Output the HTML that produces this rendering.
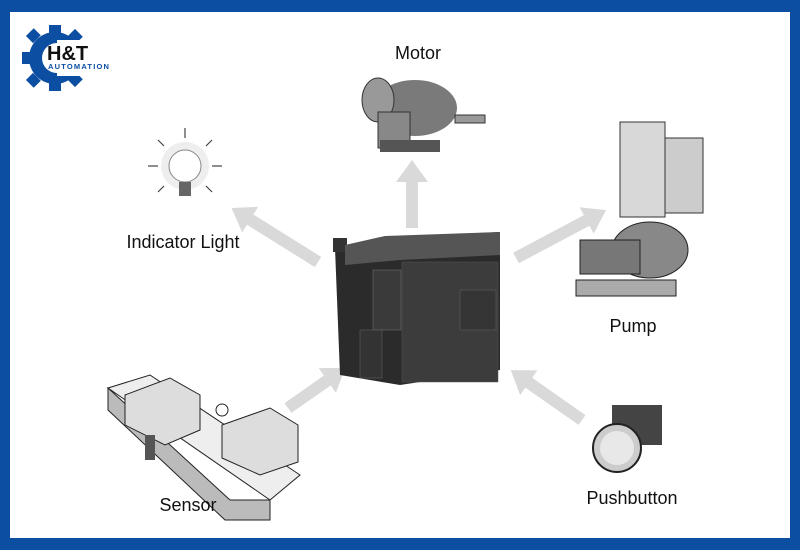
<!DOCTYPE html>
<html><head><meta charset="utf-8"><style>
body{margin:0;width:800px;height:550px;overflow:hidden;background:#fff}
svg{display:block}
text{font-family:"Liberation Sans",Arial,sans-serif}
</style></head><body>
<svg width="800" height="550" viewBox="0 0 800 550">
<rect x="0" y="0" width="800" height="550" fill="#0b4ea2"/>
<rect x="10" y="12" width="780" height="526" fill="#fff"/>
<!-- logo -->
<g fill="#0b4ea2">
<circle cx="55" cy="58" r="26"/>
<rect x="49" y="25" width="12" height="10"/><rect x="49" y="81" width="12" height="10"/>
<rect x="22" y="52" width="10" height="12"/>
<rect x="28" y="31" width="11" height="10" transform="rotate(-45 33 36)"/>
<rect x="28" y="75" width="11" height="10" transform="rotate(45 33 80)"/>
<rect x="70" y="31" width="11" height="10" transform="rotate(45 75 36)"/>
<rect x="70" y="75" width="11" height="10" transform="rotate(-45 75 80)"/>
</g>
<circle cx="57" cy="58" r="15" fill="#fff"/>
<rect x="57" y="40" width="45" height="36" fill="#fff"/>
<text x="47" y="60" font-size="20" font-weight="bold" fill="#111">H&amp;T</text>
<text x="48" y="69" font-size="7.5" font-weight="bold" fill="#0b4ea2" letter-spacing="1.2">AUTOMATION</text>
<!-- arrows -->
<g fill="#d9d9d9">
<polygon points="406,228 418,228 418,182 428,182 412,160 396,182 406,182"/>
<g transform="translate(318,262) rotate(-148)"><polygon points="0,-6 80,-6 80,-15 102,0 80,15 80,6 0,6"/></g>
<g transform="translate(516,258) rotate(-28)"><polygon points="0,-6 80,-6 80,-15 102,0 80,15 80,6 0,6"/></g>
<g transform="translate(288,408) rotate(-35)"><polygon points="0,-6 48,-6 48,-15 70,0 48,15 48,6 0,6"/></g>
<g transform="translate(582,420) rotate(-145)"><polygon points="0,-6 65,-6 65,-15 87,0 65,15 65,6 0,6"/></g>
</g>
<!-- PLC -->
<polygon points="335,248 380,238 500,232 500,370 400,385 340,375" fill="#2b2b2b"/>
<rect x="333" y="238" width="14" height="14" fill="#333"/>
<polygon points="345,245 385,236 500,232 500,255 400,260 345,265" fill="#555"/>
<rect x="373" y="270" width="28" height="60" fill="#3a3a3a" stroke="#777" stroke-width="0.5"/>
<rect x="360" y="330" width="22" height="48" fill="#333" stroke="#666" stroke-width="0.5"/>
<rect x="402" y="262" width="96" height="120" fill="#3c3c3c" stroke="#555" stroke-width="0.5"/>
<rect x="460" y="290" width="36" height="40" fill="#353535" stroke="#666" stroke-width="0.5"/>
<!-- motor -->
<g>
<ellipse cx="415" cy="108" rx="42" ry="28" fill="#7a7a7a"/>
<ellipse cx="378" cy="100" rx="16" ry="22" fill="#999" stroke="#333"/>
<rect x="378" y="112" width="32" height="36" fill="#888" stroke="#333"/>
<rect x="455" y="115" width="30" height="8" fill="#999" stroke="#333"/>
<rect x="380" y="140" width="60" height="12" fill="#555"/>
</g>
<text x="418" y="59" font-size="18" text-anchor="middle" fill="#111">Motor</text>
<!-- bulb -->
<circle cx="185" cy="166" r="24" fill="#eee"/>
<circle cx="185" cy="166" r="16" fill="#fff" stroke="#888"/>
<rect x="179" y="182" width="12" height="14" fill="#666"/>
<g stroke="#444" stroke-width="1.2">
<line x1="185" y1="128" x2="185" y2="138"/><line x1="148" y1="166" x2="158" y2="166"/><line x1="212" y1="166" x2="222" y2="166"/>
<line x1="158" y1="140" x2="164" y2="146"/><line x1="212" y1="140" x2="206" y2="146"/>
<line x1="158" y1="192" x2="164" y2="186"/><line x1="212" y1="192" x2="206" y2="186"/>
</g>
<text x="183" y="248" font-size="18" text-anchor="middle" fill="#111">Indicator Light</text>
<!-- pump -->
<rect x="620" y="122" width="45" height="95" fill="#d8d8d8" stroke="#333"/>
<rect x="665" y="138" width="38" height="75" fill="#ccc" stroke="#333"/>
<ellipse cx="650" cy="250" rx="38" ry="28" fill="#888" stroke="#222"/>
<rect x="580" y="240" width="60" height="34" fill="#777" stroke="#222"/>
<rect x="576" y="280" width="100" height="16" fill="#aaa" stroke="#222"/>
<text x="633" y="332" font-size="18" text-anchor="middle" fill="#111">Pump</text>
<!-- pushbutton -->
<rect x="612" y="405" width="50" height="40" fill="#444"/>
<circle cx="617" cy="448" r="24" fill="#ccc" stroke="#222" stroke-width="2"/>
<circle cx="617" cy="448" r="17" fill="#e8e8e8"/>
<text x="632" y="504" font-size="18" text-anchor="middle" fill="#111">Pushbutton</text>
<!-- sensor/conveyor -->
<polygon points="108,388 230,500 270,500 270,520 225,520 108,410" fill="#bbb" stroke="#222"/>
<polygon points="108,388 150,375 300,475 270,500" fill="#eee" stroke="#222"/>
<polygon points="125,395 170,378 200,395 200,430 165,445 125,425" fill="#ddd" stroke="#222"/>
<polygon points="222,425 270,408 298,425 298,462 260,475 222,458" fill="#ddd" stroke="#222"/>
<rect x="145" y="435" width="10" height="25" fill="#555"/>
<circle cx="222" cy="410" r="6" fill="none" stroke="#222"/>
<text x="188" y="511" font-size="18" text-anchor="middle" fill="#111">Sensor</text>
</svg>
</body></html>
